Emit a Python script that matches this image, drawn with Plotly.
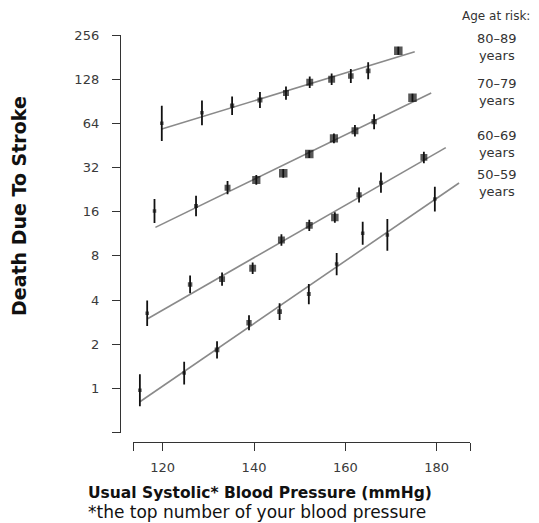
import math
import plotly.graph_objects as go

# ---- data ----
groups = ["80\u201389<br>years", "70\u201379<br>years", "60\u201369<br>years", "50\u201359<br>years"]

x_80 = [119.8, 128.6, 135.2, 141.3, 147.0, 152.2, 157.0, 161.2, 165.0, 171.6]
y_80 = [64, 75.5, 84.4, 92.3, 103, 122, 128, 134.6, 146, 200]
lo_80 = [48.5, 62.2, 73.0, 81.5, 92.8, 111.5, 117.0, 120.5, 128.0, 187.9]
hi_80 = [84.4, 91.7, 97.6, 104.6, 114.3, 133.5, 140.1, 150.4, 166.6, 212.9]

x_70 = [118.2, 127.3, 134.2, 140.5, 146.4, 152.1, 157.5, 162.1, 166.3, 174.7]
y_70 = [16.2, 17.5, 23.3, 26.3, 29.2, 39.5, 50.5, 57.0, 65.7, 95.6]
lo_70 = [13.4, 14.9, 21.0, 24.4, 27.2, 37.1, 46.8, 52.1, 58.4, 89.8]
hi_70 = [19.5, 20.5, 25.9, 28.4, 31.3, 42.0, 54.5, 62.4, 73.9, 101.8]

x_60 = [116.6, 126.0, 133.0, 139.7, 146.0, 152.1, 157.7, 163.0, 167.8, 177.2]
y_60 = [3.25, 5.11, 5.55, 6.58, 10.26, 12.9, 14.6, 20.8, 25.2, 37.5]
lo_60 = [2.66, 4.45, 5.00, 6.01, 9.38, 11.79, 13.44, 18.49, 21.49, 34.27]
hi_60 = [3.97, 5.87, 6.16, 7.20, 11.23, 14.12, 15.87, 23.40, 29.55, 41.04]

x_50 = [115.0, 124.7, 131.9, 138.9, 145.6, 152.0, 158.1, 163.8, 169.2, 179.6]
y_50 = [0.97, 1.27, 1.83, 2.80, 3.33, 4.39, 7.03, 11.4, 11.1, 19.5]
lo_50 = [0.756, 1.06, 1.60, 2.49, 2.92, 3.74, 5.91, 9.52, 8.65, 16.06]
hi_50 = [1.245, 1.52, 2.09, 3.15, 3.80, 5.15, 8.36, 13.65, 14.25, 23.68]

# fitted regression lines (start / end) per group
fit_x = [[119.8, 175.2], [118.4, 178.8], [116.6, 182.0], [115.0, 184.9]]
fit_y = [[58.5, 197.0], [12.5, 103.0], [2.97, 43.7], [0.81, 25.1]]

x_ticks = [113.56, 120, 140, 160, 180, 187.3]
x_tick_text = ["", "120", "140", "160", "180", ""]
y_ticks = [0.5, 1, 2, 4, 8, 16, 32, 64, 128, 256]
y_tick_text = ["", "1", "2", "4", "8", "16", "32", "64", "128", "256"]

series = [
    (x_80, y_80, lo_80, hi_80),
    (x_70, y_70, lo_70, hi_70),
    (x_60, y_60, lo_60, hi_60),
    (x_50, y_50, lo_50, hi_50),
]

fig = go.Figure()

for (fx, fy) in zip(fit_x, fit_y):
    fig.add_trace(go.Scatter(x=fx, y=fy, mode="lines",
                             line=dict(color="#8a8a8a", width=1.6),
                             showlegend=False, hoverinfo="skip"))

for (xs, ys, lo, hi) in series:
    plus = [h - y for h, y in zip(hi, ys)]
    minus = [y - l for l, y in zip(lo, ys)]
    sizes = []
    for l, h in zip(lo, hi):
        hw = math.log2(h / l) / 2
        sizes.append(max(3.5, min(8.5, 0.9 / hw)))
    fig.add_trace(go.Scatter(
        x=xs, y=ys, mode="markers",
        marker=dict(symbol="square", color="#111111", size=sizes, line=dict(width=0)),
        error_y=dict(type="data", symmetric=False, array=plus, arrayminus=minus,
                     color="#111111", thickness=1.8, width=0),
        showlegend=False))

# the page body has an 8px margin: figure is drawn offset by OFF
OFF = 8
W, H = 539 - OFF, 523 - OFF
L, R, T, B = 112, 69, 27, 81
pw, ph = W - L - R, H - T - B

def px(xs):
    return (xs - OFF - L) / pw

def py(ys):
    return (H - B - (ys - OFF)) / ph

tick_font = dict(family="DejaVu Sans", size=13, color="#3a3a3a")

fig.update_layout(
    width=W, height=H,
    margin=dict(l=L, r=R, t=T, b=B, pad=0),
    plot_bgcolor="white", paper_bgcolor="white",
    xaxis=dict(range=[x_ticks[0], x_ticks[-1]], domain=[13.3 / pw, 1],
               anchor="free", position=0,
               tickmode="array", tickvals=x_ticks, ticktext=x_tick_text,
               ticks="outside", ticklen=8, tickwidth=1.2, tickcolor="#333",
               showline=True, linecolor="#333", linewidth=1.4,
               showgrid=False, zeroline=False, tickfont=tick_font,
               ticklabelstandoff=5),
    yaxis=dict(type="log", range=[math.log10(0.5), math.log10(256)],
               domain=[9.5 / ph, 1], anchor="free", position=0,
               tickmode="array", tickvals=y_ticks, ticktext=y_tick_text,
               ticks="outside", ticklen=8, tickwidth=1.2, tickcolor="#333",
               showline=True, linecolor="#333", linewidth=1.4,
               showgrid=False, zeroline=False, tickfont=tick_font,
               ticklabelstandoff=10),
)

ann = []
ann.append(dict(text="Age at risk:", x=px(496), y=py(16), xref="paper", yref="paper",
                showarrow=False, xanchor="center", yanchor="middle",
                font=dict(family="DejaVu Sans", size=12, color="#333")))
legend_y = [47, 92, 144, 182.5]
for g, ly in zip(groups, legend_y):
    ann.append(dict(text=g, x=px(496.7), y=py(ly), xref="paper", yref="paper",
                    showarrow=False, xanchor="center", yanchor="middle",
                    font=dict(family="DejaVu Sans", size=13, color="#333")))
ann.append(dict(text="<b>Usual Systolic* Blood Pressure (mmHg)</b>", x=px(259.7), y=py(493),
                xref="paper", yref="paper", showarrow=False, xanchor="center", yanchor="middle",
                font=dict(family="DejaVu Sans", size=15.5, color="#111")))
ann.append(dict(text="*the top number of your blood pressure", x=px(257), y=py(512),
                xref="paper", yref="paper", showarrow=False, xanchor="center", yanchor="middle",
                font=dict(family="DejaVu Sans", size=17, color="#111")))
ann.append(dict(text="<b>Death Due To Stroke</b>", x=px(19), y=py(206), textangle=-90,
                xref="paper", yref="paper", showarrow=False, xanchor="center", yanchor="middle",
                font=dict(family="DejaVu Sans", size=19, color="#111")))
fig.update_layout(annotations=ann)

fig.write_html("out.html")
